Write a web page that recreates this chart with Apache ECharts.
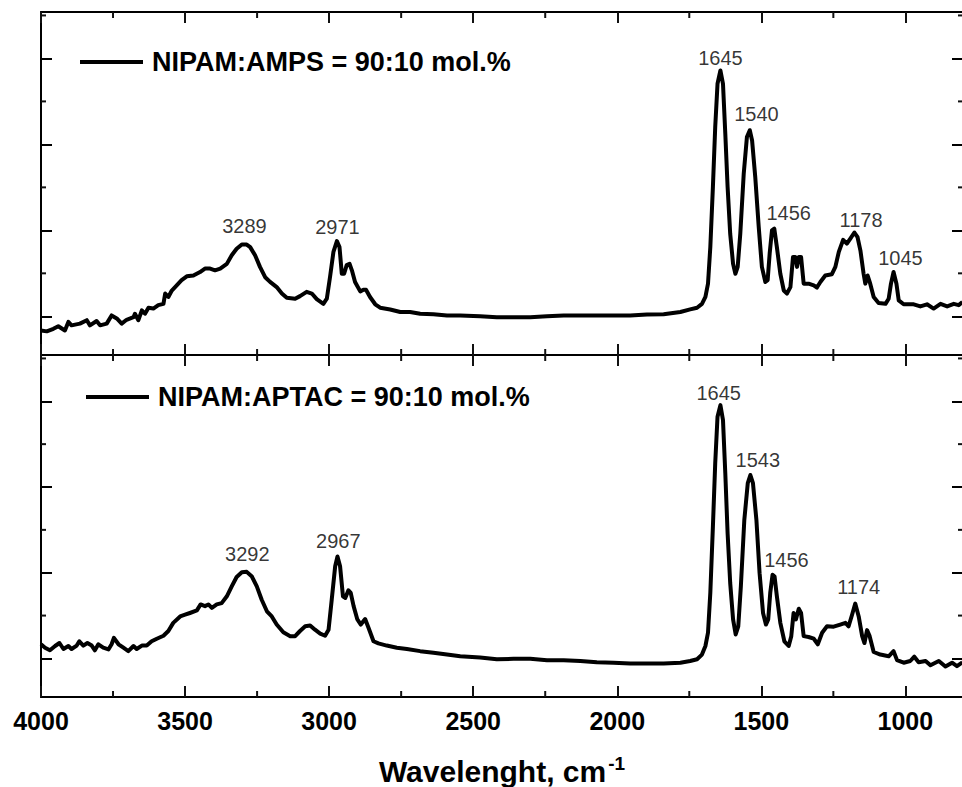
<!DOCTYPE html>
<html>
<head>
<meta charset="utf-8">
<script src="https://cdn.jsdelivr.net/npm/echarts@6/dist/echarts.min.js"></script>
<style>html,body{margin:0;padding:0;background:#fff;}#c{width:962px;height:787px;}</style>
</head>
<body>
<div id="c"></div>
<script>
// ---- data (wavenumber, cm-1 ; absorbance, arbitrary units) ----
const nameA = 'NIPAM:AMPS = 90:10 mol.%';
const nameB = 'NIPAM:APTAC = 90:10 mol.%';

const wnA = [4000,3980,3957,3940,3917,3905,3894,3865,3841,3830,3807,3795,3772,3755,3737,3720,3703,3679,3674,3662,3650,3639,3627,3610,3593,3575,3569,3558,3546,3529,3512,3494,3471,3448,3431,3413,3396,3378,3355,3338,3321,3303,3286,3274,3257,3240,3222,3205,3182,3164,3147,3118,3101,3078,3060,3043,3020,3008,2997,2985,2973,2964,2956,2948,2939,2929,2921,2910,2892,2881,2872,2858,2840,2823,2788,2753,2719,2684,2638,2591,2545,2476,2418,2360,2302,2244,2186,2128,2071,2013,1955,1897,1839,1781,1747,1723,1706,1694,1685,1677,1668,1660,1652,1642,1633,1625,1617,1608,1598,1590,1582,1573,1561,1550,1540,1532,1521,1509,1498,1486,1478,1471,1463,1455,1446,1434,1422,1411,1399,1390,1382,1376,1370,1362,1353,1336,1318,1307,1295,1278,1255,1243,1231,1216,1203,1191,1177,1166,1156,1145,1139,1131,1122,1110,1093,1069,1058,1050,1041,1031,1023,1006,971,948,925,902,878,855,832,815,802];
const absA = [-0.33,-0.35,-0.29,-0.23,-0.33,-0.13,-0.21,-0.17,-0.09,-0.21,-0.11,-0.21,-0.17,0.02,-0.05,-0.17,-0.08,-0.02,0.06,-0.09,0.14,0.06,0.20,0.18,0.26,0.29,0.53,0.45,0.60,0.72,0.84,0.93,0.95,1.03,1.11,1.11,1.07,1.11,1.22,1.42,1.57,1.67,1.67,1.61,1.42,1.15,0.91,0.80,0.68,0.53,0.43,0.41,0.47,0.57,0.53,0.40,0.29,0.41,0.91,1.50,1.75,1.61,0.99,0.99,1.19,1.22,1.07,0.80,0.58,0.62,0.62,0.45,0.28,0.20,0.16,0.10,0.10,0.06,0.05,0.02,0.02,0.00,-0.02,-0.02,-0.02,0.00,0.02,0.02,0.02,0.02,0.02,0.04,0.05,0.10,0.16,0.20,0.29,0.45,0.76,1.61,3.01,4.40,5.41,5.72,5.41,4.25,3.01,1.92,1.22,0.99,1.15,1.92,3.32,4.17,4.33,4.09,3.24,2.08,1.15,0.80,0.84,1.46,2.00,2.04,1.61,0.99,0.60,0.53,0.68,1.38,1.38,1.15,1.38,1.38,0.76,0.76,0.72,0.67,0.80,0.95,0.98,1.15,1.50,1.78,1.69,1.81,1.95,1.84,1.53,0.99,0.76,0.95,0.76,0.45,0.31,0.29,0.41,0.76,1.03,0.76,0.37,0.28,0.28,0.23,0.28,0.18,0.29,0.23,0.29,0.26,0.33];

const wnB = [4000,3986,3969,3951,3936,3922,3905,3894,3876,3867,3853,3839,3824,3813,3801,3784,3766,3755,3747,3731,3714,3697,3679,3668,3650,3633,3616,3598,3575,3558,3541,3517,3500,3483,3459,3446,3431,3419,3407,3390,3373,3355,3338,3321,3303,3286,3268,3251,3234,3216,3199,3182,3159,3135,3118,3101,3083,3066,3049,3031,3014,3002,2991,2979,2971,2962,2952,2944,2933,2925,2915,2902,2890,2875,2863,2846,2829,2800,2765,2730,2684,2638,2591,2545,2476,2418,2360,2302,2244,2186,2128,2071,2013,1955,1897,1839,1781,1747,1723,1706,1694,1685,1677,1668,1660,1652,1642,1633,1625,1617,1608,1598,1589,1580,1571,1559,1547,1538,1529,1517,1506,1494,1484,1476,1469,1461,1454,1446,1434,1420,1405,1396,1388,1380,1370,1362,1353,1336,1318,1304,1289,1272,1249,1226,1208,1197,1185,1174,1162,1150,1142,1133,1124,1110,1087,1058,1041,1029,1006,983,969,954,930,913,884,861,838,821,802];
const absB = [0.33,0.25,0.19,0.29,0.36,0.22,0.29,0.22,0.30,0.40,0.30,0.36,0.30,0.19,0.33,0.25,0.21,0.33,0.48,0.33,0.25,0.17,0.29,0.22,0.30,0.30,0.40,0.46,0.53,0.64,0.83,0.98,1.02,1.06,1.12,1.26,1.22,1.26,1.18,1.26,1.29,1.45,1.68,1.90,2.01,2.02,1.91,1.68,1.37,1.10,0.98,0.79,0.61,0.52,0.52,0.64,0.75,0.77,0.67,0.58,0.53,0.67,1.37,2.15,2.38,2.15,1.45,1.41,1.59,1.53,1.22,0.91,0.79,0.92,0.71,0.40,0.35,0.30,0.25,0.22,0.17,0.13,0.09,0.05,0.02,-0.02,-0.01,-0.01,-0.04,-0.04,-0.06,-0.09,-0.10,-0.12,-0.12,-0.12,-0.10,-0.06,-0.02,0.09,0.29,0.60,1.53,3.08,4.55,5.64,5.91,5.56,4.32,2.92,1.76,0.91,0.56,0.75,1.68,3.23,4.09,4.28,4.09,3.23,1.99,1.06,0.79,0.91,1.53,1.95,1.91,1.45,0.83,0.40,0.29,0.52,1.06,0.91,1.16,1.06,0.52,0.50,0.46,0.33,0.60,0.75,0.74,0.79,0.83,0.75,1.02,1.28,0.98,0.52,0.36,0.66,0.52,0.15,0.09,0.05,0.17,-0.04,-0.10,-0.06,0.04,-0.09,-0.06,-0.16,-0.06,-0.19,-0.10,-0.18,-0.09];

// peak annotations: text, label anchor wavenumber, label anchor absorbance
const peakTextA = ['3289','2971','1645','1540','1456','1178','1045'];
const peakWnA   = [3294, 2971, 1642, 1517, 1405, 1154, 1017];
const peakYA    = [2.10, 2.08, 6.02, 4.70, 2.40, 2.25, 1.36];
const peakTextB = ['3292','2967','1645','1543','1456','1174'];
const peakWnB   = [3284, 2968, 1648, 1512, 1413, 1162];
const peakYB    = [2.44, 2.74, 6.19, 4.63, 2.30, 1.67];

// axis ticks (x runs from 4000 down to 800 cm-1; plotted as negative numbers so it reads right-to-left)
const X_LEFT = 4000, X_RIGHT = 800, X_MAJOR = 500;
const xMinorTicks = [1250,1750,2250,2750,3250,3750];
const yMajor = [0,2,4,6];
const yMinor = [1,3,5,7];
const YMIN = -0.9, YMAX = 7.08;

const FONT = '"Liberation Sans", Arial, Helvetica, sans-serif';
const TICK = '#111111';

function zip(a, b){ return a.map((v,i)=>[-v, b[i]]); }
function zip3(a, b, c){ return a.map((v,i)=>[-b[i], c[i], v]); }

function xAx(grid, pos, label){
  return {
    type:'value', gridIndex:grid, position:pos, min:-X_LEFT, max:-X_RIGHT, interval:X_MAJOR,
    axisLine:{show:true, onZero:false, lineStyle:{color:'#000', width:2}},
    axisTick:{show:true, inside:true, length:11, lineStyle:{color:TICK, width:2}},
    axisLabel: label ? {show:true, showMaxLabel:false, color:'#000', fontSize:25, fontWeight:'bold', fontFamily:FONT, margin:11, formatter:(v)=>String(-v)} : {show:false},
    splitLine:{show:false},
    name: label ? '{a|Wavelenght, cm}{s|-1}' : '',
    nameLocation:'middle', nameGap:57,
    nameTextStyle:{ rich:{
      a:{fontSize:30, fontWeight:'bold', fontFamily:FONT, color:'#000', lineHeight:34},
      s:{fontSize:19, fontWeight:'bold', fontFamily:FONT, color:'#000', verticalAlign:'top', lineHeight:34, padding:[0,0,14,2]}
    }}
  };
}
function yAx(grid, pos){
  return {type:'value', gridIndex:grid, position:pos, min:YMIN, max:YMAX,
    axisLine:{show:true, onZero:false, lineStyle:{color:'#000', width:2}},
    axisTick:{show:true, inside:true, length:11, customValues:yMajor, lineStyle:{color:'#000', width:2}},
    axisLabel:{show:false}, splitLine:{show:false}};
}
// short inward minor ticks on top/bottom edges, placed through the panel's scales
function xMinorSeries(xi, yi){
  return {type:'custom', xAxisIndex:xi, yAxisIndex:yi, data:xMinorTicks.map(v=>[-v, YMIN]), clip:false, z:3,
    renderItem:(params, api)=>{
      const x = api.value(0);
      const pB = api.coord([x, YMIN]); const pT = api.coord([x, YMAX]);
      return {type:'group', children:[
        {type:'line', shape:{x1:pB[0], y1:pB[1], x2:pB[0], y2:pB[1]-6}, style:{stroke:TICK, lineWidth:2}},
        {type:'line', shape:{x1:pT[0], y1:pT[1], x2:pT[0], y2:pT[1]+6}, style:{stroke:TICK, lineWidth:2}}]};
    }};
}
// short inward minor ticks on left/right edges
function yMinorSeries(xi, yi){
  return {type:'custom', xAxisIndex:xi, yAxisIndex:yi, data:yMinor.map(v=>[-X_LEFT, v]), clip:false, z:3,
    renderItem:(params, api)=>{
      const y = api.value(1);
      const pL = api.coord([-X_LEFT, y]); const pR = api.coord([-X_RIGHT, y]);
      return {type:'group', children:[
        {type:'line', shape:{x1:pL[0], y1:pL[1], x2:pL[0]+5, y2:pL[1]}, style:{stroke:TICK, lineWidth:2}},
        {type:'line', shape:{x1:pR[0], y1:pR[1], x2:pR[0]-5, y2:pR[1]}, style:{stroke:TICK, lineWidth:2}}]};
    }};
}
function peakSeries(xi, yi, data){
  return {type:'scatter', xAxisIndex:xi, yAxisIndex:yi, symbolSize:0, data:data, z:5,
    label:{show:true, position:'inside', formatter:(p)=>p.data[2], color:'#000', fontSize:20, fontFamily:FONT}};
}

const chart = echarts.init(document.getElementById('c'), null, {renderer:'svg'});
chart.setOption({
  animation:false,
  backgroundColor:'#fff',
  grid:[
    {left:41, top:12, width:922, height:343, containLabel:false, outerBoundsMode:'none'},
    {left:41, top:355, width:922, height:342, containLabel:false, outerBoundsMode:'none'}
  ],
  xAxis:[xAx(0,'bottom',false), xAx(0,'top',false), xAx(1,'bottom',true), xAx(1,'top',false)],
  yAxis:[yAx(0,'left'), yAx(0,'right'), yAx(1,'left'), yAx(1,'right')],
  legend:[
    {data:[nameA], left:80, top:47, padding:0, selectedMode:false, icon:'rect', itemWidth:63, itemHeight:4,
     textStyle:{color:'#000', fontSize:27, fontWeight:'bold', fontFamily:FONT, lineHeight:30, padding:[0,0,0,4]}},
    {data:[nameB], left:86, top:382, padding:0, selectedMode:false, icon:'rect', itemWidth:63, itemHeight:4,
     textStyle:{color:'#000', fontSize:27, fontWeight:'bold', fontFamily:FONT, lineHeight:30, padding:[0,0,0,4]}}
  ],
  series:[
    {name:nameA, type:'line', xAxisIndex:0, yAxisIndex:0, data:zip(wnA,absA), symbol:'none', color:'#000', lineStyle:{color:'#000', width:4, join:'round'}},
    {name:nameB, type:'line', xAxisIndex:2, yAxisIndex:2, data:zip(wnB,absB), symbol:'none', color:'#000', lineStyle:{color:'#000', width:4, join:'round'}},
    peakSeries(0,0,zip3(peakTextA,peakWnA,peakYA)),
    peakSeries(2,2,zip3(peakTextB,peakWnB,peakYB)),
    xMinorSeries(0,0), xMinorSeries(2,2),
    yMinorSeries(0,0), yMinorSeries(2,2)
  ]
});
</script>
</body>
</html>
